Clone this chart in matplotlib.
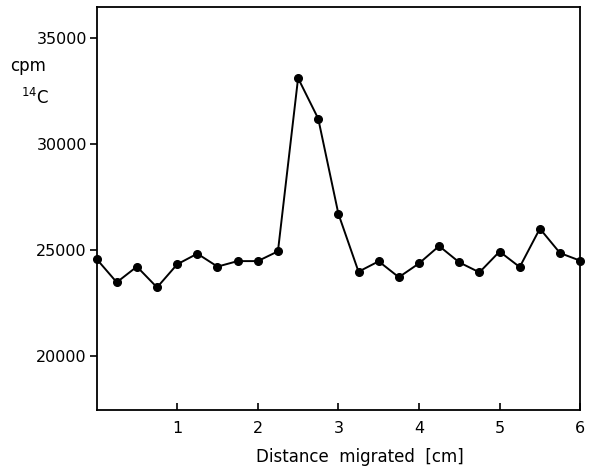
import matplotlib
matplotlib.use("Agg")
import matplotlib.pyplot as plt

distance = [0, 0.25, 0.5, 0.75, 1.0, 1.25, 1.5, 1.75, 2.0, 2.25, 2.5, 2.75, 3.0,
            3.25, 3.5, 3.75, 4.0, 4.25, 4.5, 4.75, 5.0, 5.25, 5.5, 5.75, 6.0]
cpm = [24580, 23480, 24220, 23240, 24330, 24830, 24220, 24480, 24480, 24940,
       33100, 31190, 26710, 23980, 24470, 23720, 24370, 25190, 24420, 23950,
       24930, 24200, 26010, 24860, 24500]
xticks = [1, 2, 3, 4, 5, 6]
yticks = [20000, 25000, 30000, 35000]

plt.rcParams['font.family'] = ['DejaVu Sans']
fig = plt.figure(figsize=(5.89, 4.68), dpi=100)
ax = fig.add_axes([0.164, 0.1246, 0.821, 0.8604])
ax.plot(distance, cpm, color='black', lw=1.4, marker='o', ms=5.5, clip_on=False, zorder=3)
ax.set_xlim(0, 6)
ax.set_ylim(17480, 36450)
ax.set_xticks(xticks)
ax.set_yticks(yticks)
ax.tick_params(axis='x', direction='in', length=5, width=1.2, labelsize=11.5, pad=8)
ax.tick_params(axis='y', direction='out', length=5, width=1.2, labelsize=11.5, pad=2)
for s in ax.spines.values():
    s.set_linewidth(1.3)
fig.text(0.611, 0.024, "Distance  migrated  [cm]", ha='center', va='center', fontsize=12)
fig.text(0.017, 0.86, "cpm", ha='left', va='center', fontsize=12)
fig.text(0.035, 0.79, r"$^{14}$C", ha='left', va='center', fontsize=12)
fig.savefig("out.png", dpi=100)
